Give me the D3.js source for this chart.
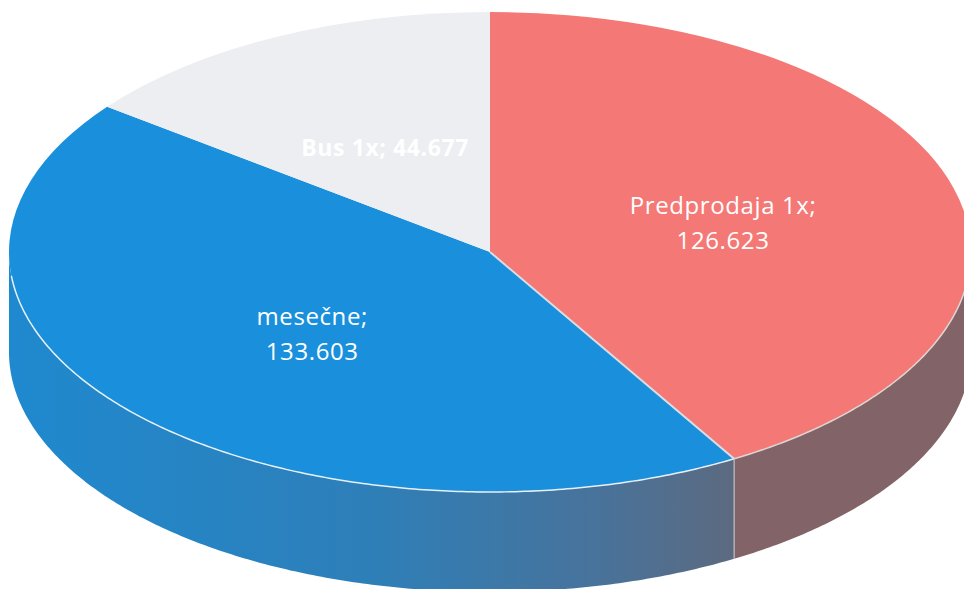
<!DOCTYPE html>
<html>
<head>
<meta charset="utf-8">
<script src="https://cdn.jsdelivr.net/npm/d3@7"></script>
<style>
  html, body { margin: 0; background: #fff; overflow: hidden; }
  svg { display: block; }
  text { font-family: "Open Sans", "Noto Sans", sans-serif; fill: #fff; text-anchor: middle; }
</style>
</head>
<body>
<div id="chart"></div>
<script>
/* global d3 */
(function () {
  'use strict'

  var categories = ['Predprodaja 1x', 'mesečne', 'Bus 1x']
  var values = [126623, 133603, 44677]
  var valueLabels = ['126.623', '133.603', '44.677']

  var colors = ['#f47976', '#1a8fdc', '#eceef2']

  var dim = { w: 964, h: 589 }
  var disc = { left: 9, right: 971, top: 12, bottom: 492, depth: 100 }
  var rx = (disc.right - disc.left) / 2
  var ry = (disc.bottom - disc.top) / 2
  var cx = disc.left + rx
  var cy = disc.top + ry

  var svg = d3.select('#chart').append('svg')
    .attr('width', dim.w)
    .attr('height', dim.h)

  // Side gradient of the blue wall
  var grad = svg.append('defs').append('linearGradient')
    .attr('id', 'wall-blue')
    .attr('gradientUnits', 'userSpaceOnUse')
    .attr('x1', disc.left).attr('x2', 735)
    .attr('y1', 0).attr('y2', 0)
  grad.append('stop').attr('offset', '0%').attr('stop-color', '#1f89cf')
  grad.append('stop').attr('offset', '50%').attr('stop-color', '#2e7fb8')
  grad.append('stop').attr('offset', '80%').attr('stop-color', '#47739c')
  grad.append('stop').attr('offset', '100%').attr('stop-color', '#5c6a80')

  var pie = d3.pie().sort(null).startAngle(0).endAngle(2 * Math.PI)
  var slices = pie(values)

  var arc = d3.arc().innerRadius(0).outerRadius(rx)

  function edgeX (a) { return cx + rx * Math.sin(a) }
  function edgeY (a) { return cy - ry * Math.cos(a) }

  // Front wall, only the part of the rim that faces the viewer
  var wall = d3.area()
    .x(edgeX)
    .y0(edgeY)
    .y1(function (a) { return edgeY(a) + disc.depth })

  var rim = d3.line().x(edgeX).y(edgeY)

  function frontAngles (s) {
    var a0 = Math.max(s.startAngle, Math.PI / 2)
    var a1 = Math.min(s.endAngle, 3 * Math.PI / 2)
    if (a1 <= a0) return []
    return d3.range(a0, a1, 0.01).concat([a1])
  }

  var wallFills = ['#826468', 'url(#wall-blue)', 'none']

  svg.append('g').selectAll('path')
    .data(slices)
    .enter().append('path')
    .attr('d', function (d) { return wall(frontAngles(d)) })
    .attr('fill', function (d, i) { return wallFills[i] })

  // Top of the disc, squashed circle
  var top = svg.append('g')
    .attr('transform', 'translate(' + cx + ',' + cy + ') scale(1,' + (ry / rx) + ')')

  top.selectAll('path')
    .data(slices)
    .enter().append('path')
    .attr('d', arc)
    .attr('fill', function (d, i) { return colors[i] })

  // Light seams: rim, red/blue border and the wall corner
  var seamAngle = slices[1].startAngle
  var seams = svg.append('g')
    .attr('fill', 'none')

  seams.append('path')
    .attr('d', rim(frontAngles({ startAngle: Math.PI / 2, endAngle: seamAngle })))
    .attr('stroke', '#ddd5d3')
    .attr('stroke-width', 1.5)

  seams.append('path')
    .attr('d', rim(frontAngles({ startAngle: seamAngle, endAngle: 3 * Math.PI / 2 - 0.1 })))
    .attr('stroke', '#e6f0f6')
    .attr('stroke-width', 1.5)

  seams.append('line')
    .attr('x1', cx).attr('y1', cy)
    .attr('x2', edgeX(seamAngle)).attr('y2', edgeY(seamAngle))
    .attr('stroke', '#d9dfe3')
    .attr('stroke-width', 2)

  seams.append('line')
    .attr('x1', edgeX(seamAngle)).attr('y1', edgeY(seamAngle))
    .attr('x2', edgeX(seamAngle)).attr('y2', edgeY(seamAngle) + disc.depth)
    .attr('stroke', '#c9ced2')
    .attr('stroke-width', 1)

  // Labels sit on the arc centroid, projected on the squashed disc
  var labels = svg.append('g')

  slices.forEach(function (d, i) {
    var c = arc.centroid(d)
    var x = cx + c[0]
    var y = cy + c[1] * ry / rx
    if (i === 2) {
      labels.append('text')
        .attr('x', x + 2).attr('y', y + 12)
        .attr('font-size', 23)
        .attr('font-weight', 700)
        .attr('letter-spacing', 0.6)
        .text(categories[i] + '; ' + valueLabels[i])
    } else {
      labels.append('text')
        .attr('x', x + (i === 1 ? 2 : 1)).attr('y', y + (i === 1 ? -7 : -6))
        .attr('font-size', 24)
        .attr('letter-spacing', 0.6)
        .text(categories[i] + ';')
      labels.append('text')
        .attr('x', x + (i === 1 ? 2 : 1)).attr('y', y + (i === 1 ? 28 : 29))
        .attr('font-size', 24)
        .attr('letter-spacing', 0.6)
        .text(valueLabels[i])
    }
  })
}())
</script>
</body>
</html>
